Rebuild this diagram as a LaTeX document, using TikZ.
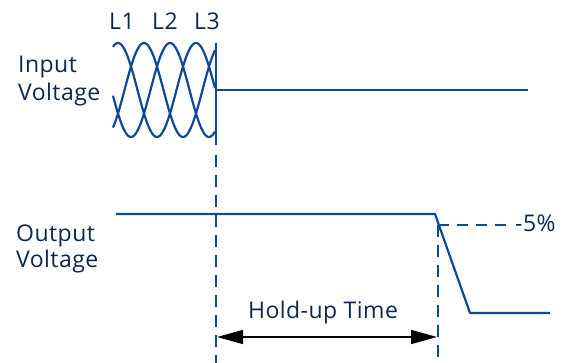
\documentclass[tikz,border=0pt]{standalone}
\usepackage{fontspec}
\setmainfont[LetterSpace=2]{Open Sans}
\usetikzlibrary{arrows.meta}
\definecolor{wave}{RGB}{14,72,152}
\definecolor{ink}{RGB}{12,40,80}
\tikzset{
  sig/.style={draw=wave, line width=2.2pt},
  guide/.style={draw=wave, line width=2.2pt, dash pattern=on 12pt off 8pt},
  lbl/.style={text=ink, font=\fontsize{23}{27}\selectfont, inner sep=0pt, anchor=base west},
  span/.style={draw=black, line width=1.6pt, {Triangle[length=26pt,width=14pt]}-{Triangle[length=26pt,width=14pt]}}
}
\begin{document}
\begin{tikzpicture}[x=1pt,y=-1pt]
\useasboundingbox (0,0) rectangle (572,363);
% labels
\node[lbl, anchor=base] (l1) at (122,30) {L1};
\node[lbl, anchor=base] (l2) at (165,30) {L2};
\node[lbl, anchor=base] (l3) at (207,30) {L3};
\node[lbl] (in1) at (18,73) {Input};
\node[lbl] (in2) at (18,101) {Voltage};
\node[lbl] (out1) at (16,241) {Output};
\node[lbl] (out2) at (16,267) {Voltage};
\node[lbl] (pct) at (515,232) {-5\%};
\node[lbl, anchor=base] (hold) at (323,318) {Hold-up Time};
% three-phase sine waves
\foreach \p in {118,144,170}
  \draw[sig, line join=round] plot[domain=113:215, samples=80, smooth] (\x, {90-47*cos(4.61538*(\x-\p))});
% coordinates
\coordinate (cutTop) at (216,43);
\coordinate (cutBot) at (216,145);
\coordinate (dashTop) at (216,155);
\coordinate (inL) at (216,90);
\coordinate (inR) at (528,90);
\coordinate (outL) at (116,214);
\coordinate (drop) at (435,214);
\coordinate (low) at (470,313);
\coordinate (outR) at (550,313);
\coordinate (cross) at (438,225);
\coordinate (pctEnd) at (506,225);
\coordinate (dA) at (216,363);
\coordinate (dB) at (438,363);
\coordinate (arL) at (217,337);
\coordinate (arR) at (437,337);
% signals
\draw[sig] (cutTop) -- (cutBot);
\draw[sig] (inL) -- (inR);
\draw[sig, line join=round] (outL) -- (drop) -- (low) -- (outR);
% guides
\draw[guide] (dashTop) -- (dA);
\draw[guide] (cross) -- (dB);
\draw[guide, dash pattern=on 11pt off 8pt] (cross) -- (pctEnd);
% hold-up arrow
\draw[span] (arL) -- (arR);
\end{tikzpicture}
\end{document}
